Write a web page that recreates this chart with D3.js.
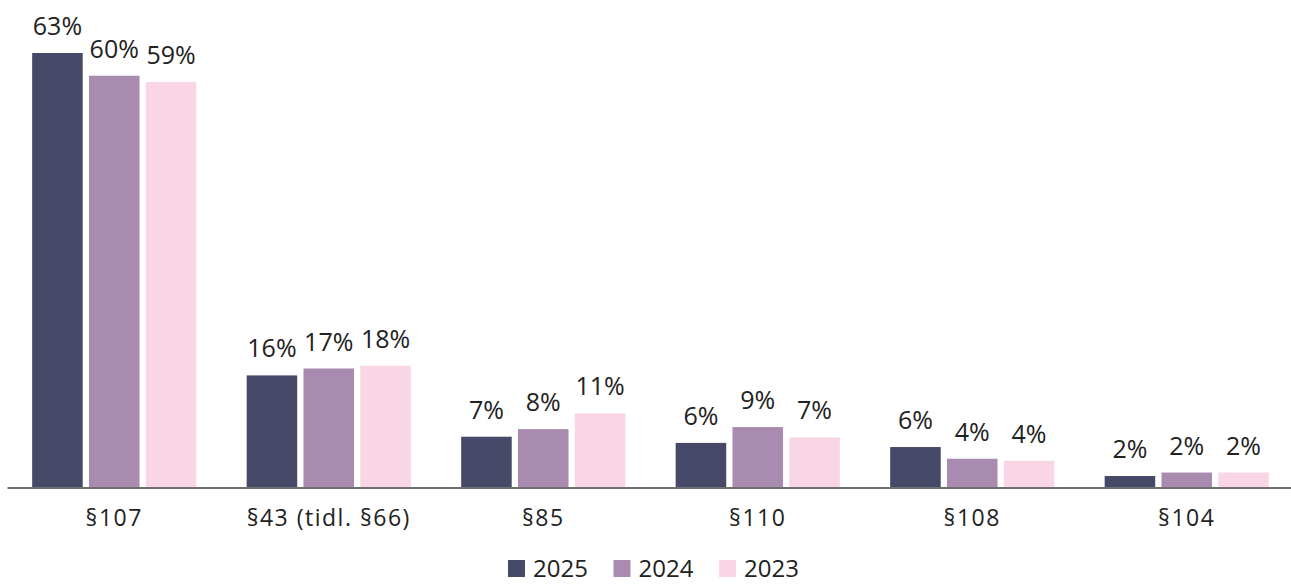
<!DOCTYPE html>
<html>
<head>
<meta charset="utf-8">
<script src="https://cdn.jsdelivr.net/npm/d3@7"></script>
<style>
    body { margin: 0; background: #fff; }
    svg  { display: block; font-family: "Open Sans", sans-serif; }
</style>
</head>
<body>
<svg></svg>
<script>
let WIDTH    = 1291,
    HEIGHT   = 584,
    LEFT     = 7,
    RIGHT    = 1294,
    BASELINE = 487,
    TOP      = 53;

// paragraphs shown on the x axis
let categories = ["§107", "§43 (tidl. §66)", "§85", "§110", "§108", "§104"];
let years      = ["2025", "2024", "2023"];
let colors     = ["#464a68", "#a88baf", "#f9d5e5"];

// shares in percent
let v2025 = [63.0, 16.2, 7.3, 6.4, 5.8, 1.6];
let v2024 = [59.7, 17.2, 8.4, 8.7, 4.1, 2.1];
let v2023 = [58.8, 17.6, 10.7, 7.2, 3.8, 2.1];

let series = [v2025, v2024, v2023];


function barChart() {
    let that = {};

    that.render = function () {

        let svg = d3.select("svg")
                    .attr("width", WIDTH)
                    .attr("height", HEIGHT);

        let x0 = d3.scaleBand()
                   .domain(categories)
                   .range([LEFT, RIGHT]);

        let x1 = d3.scaleBand()
                   .domain(years)
                   .range([0, x0.bandwidth()])
                   .paddingInner(0.11)
                   .paddingOuter(0.443);

        let y = d3.scaleLinear()
                  .domain([0, 63])
                  .range([BASELINE, TOP]);

        let color = d3.scaleOrdinal(years, colors);

        let rows = [];
        categories.forEach(function (c, i) {
            years.forEach(function (yr, j) {
                rows.push({cat: c, year: yr, value: series[j][i]});
            });
        });

        let bars = svg.append("g")
                      .selectAll("g")
                      .data(rows)
                      .enter()
                      .append("g");

        bars.append("rect")
            .attr("x", d => x0(d.cat) + x1(d.year))
            .attr("y", d => y(d.value))
            .attr("width", x1.bandwidth())
            .attr("height", d => BASELINE - y(d.value))
            .attr("fill", d => color(d.year));

        // value labels above the bars
        bars.append("text")
            .attr("x", d => x0(d.cat) + x1(d.year) + x1.bandwidth() / 2)
            .attr("y", d => y(d.value) - 18)
            .attr("text-anchor", "middle")
            .attr("font-size", 25)
            .attr("fill", "#222")
            .text(d => Math.round(d.value) + "%");

        // x axis: line plus category labels, no ticks
        let axis = svg.append("g")
                      .attr("transform", "translate(0," + (BASELINE + 0.5) + ")")
                      .call(d3.axisBottom(x0).tickSize(0).tickPadding(22));

        axis.select(".domain")
            .attr("stroke", "#404040")
            .attr("stroke-width", 1.5);

        axis.selectAll("text")
            .attr("font-family", "Open Sans, sans-serif")
            .attr("font-size", 23)
            .attr("letter-spacing", "1.5px")
            .attr("fill", "#222")
            .attr("dy", "0.72em");

        // legend (kept just inside the bottom edge)
        let legend = svg.append("g")
                        .selectAll("g")
                        .data(years)
                        .enter()
                        .append("g")
                        .attr("transform", (d, i) => "translate(" + (508 + i * 105.5) + ",560)");

        legend.append("rect")
              .attr("width", 17)
              .attr("height", 17)
              .attr("fill", d => color(d));

        legend.append("text")
              .attr("x", 25)
              .attr("y", 17)
              .attr("font-size", 24)
              .attr("fill", "#222")
              .text(d => d);
    };

    return that;
}

barChart().render();
</script>
</body>
</html>
